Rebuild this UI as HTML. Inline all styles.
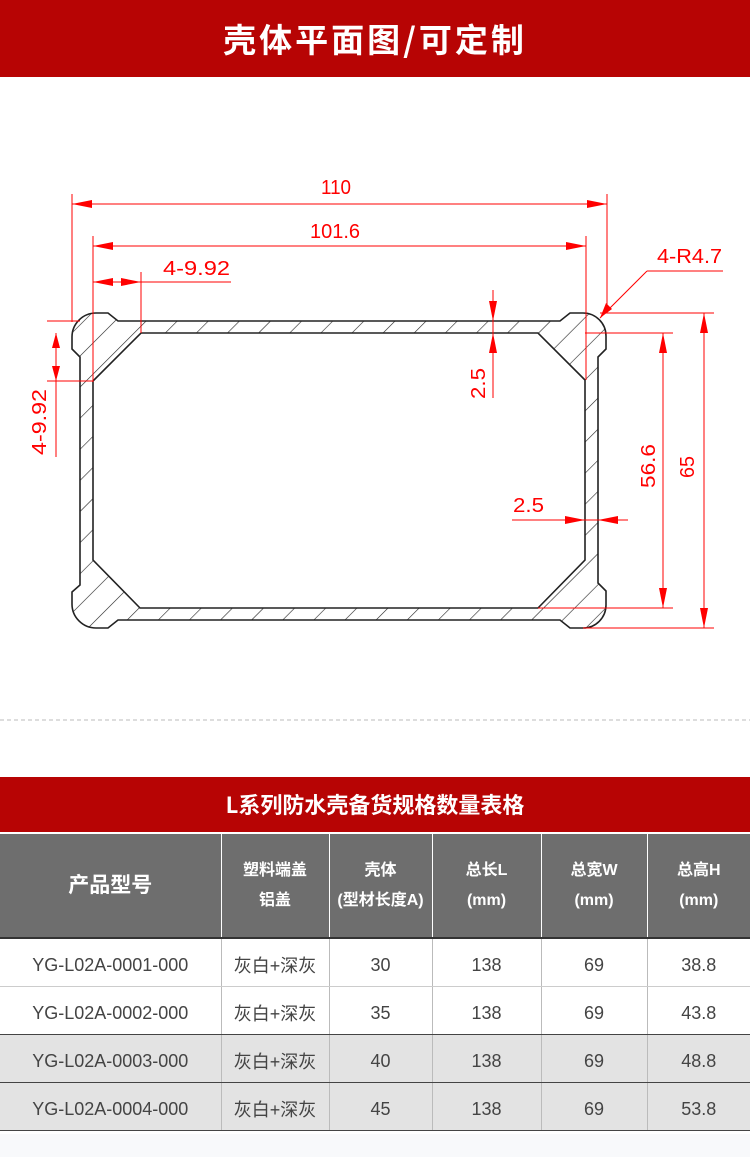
<!DOCTYPE html>
<html><head><meta charset="utf-8"><style>
*{margin:0;padding:0;box-sizing:border-box}
body{width:750px;height:1157px;background:#fff;position:relative;overflow:hidden;font-family:"Liberation Sans","Noto Sans CJK SC",sans-serif}
.top{position:absolute;left:0;top:0;width:750px;height:77px;background:#b70404;color:#fff;font-family:"Noto Sans CJK SC",sans-serif;font-weight:700;font-size:33px;letter-spacing:3px;text-align:center;line-height:77px}
.band{position:absolute;left:0;top:777px;width:750px;height:55px;background:#b70404;color:#fff;font-family:"Noto Sans CJK SC",sans-serif;font-weight:700;font-size:22px;text-align:center;line-height:55px}
table{position:absolute;left:0;top:834px;width:750px;border-collapse:collapse;font-family:"Liberation Sans","Noto Sans CJK SC",sans-serif}
td{text-align:center;color:#444;font-size:18px;border-left:1px solid #bbb;padding-top:6px}
td:first-child{border-left:none}
tr.h td{background:#6e6e6e;color:#fff;font-weight:700;font-size:16px;height:104px;line-height:30px;border-left:1px solid #fff;border-bottom:2px solid #333;padding-top:0}
tr.h td:first-child{border-left:none;font-size:21px}
tr.r td{height:48px;border-bottom:1px solid #ccc}
tr.g td{background:#e3e3e3;border-bottom:1px solid #444}
tr.g2 td{border-bottom:1px solid #444}
</style></head><body>
<div class="top">壳体平面图/可定制</div>
<svg width="750" height="760" style="position:absolute;left:0;top:0" xmlns="http://www.w3.org/2000/svg">
<defs>
<pattern id="h" patternUnits="userSpaceOnUse" width="22" height="22" patternTransform="rotate(45)">
<line x1="0" y1="0" x2="0" y2="22" stroke="#222" stroke-width="1.2"/>
</pattern>
</defs>
<path fill-rule="evenodd" fill="url(#h)" stroke="#222" stroke-width="1.6" d="M118,321 L560,321 L570,313 L583,313 A23,23 0 0 1 606,336 L606,349 L598,357 L598,583 L606,591 L606,605 A23,23 0 0 1 583,628 L570,628 L560,620 L118,620 L108,628 L96,628 A24,24 0 0 1 72,604 L72,592 L80,585 L80,357 L72,349 L72,337 A24,24 0 0 1 96,313 L108,313 Z M141,333 L538,333 L585,380 L585,560 L538,608 L140,608 L93,560 L93,381 Z"/>
<g stroke="#f00" stroke-width="1" fill="none">
<line x1="72" y1="194" x2="72" y2="322"/><line x1="607" y1="194" x2="607" y2="313"/>
<line x1="72" y1="204" x2="607" y2="204"/>
<line x1="93" y1="236" x2="93" y2="382"/><line x1="586" y1="236" x2="586" y2="380"/>
<line x1="93" y1="246" x2="586" y2="246"/>
<line x1="141" y1="272" x2="141" y2="333"/>
<line x1="93" y1="282" x2="231" y2="282"/>
<line x1="493" y1="290" x2="493" y2="398"/>
<line x1="47" y1="321" x2="80" y2="321"/><line x1="47" y1="381" x2="93" y2="381"/>
<line x1="56" y1="333" x2="56" y2="457"/>
<line x1="585" y1="333" x2="673" y2="333"/><line x1="600" y1="313" x2="714" y2="313"/>
<line x1="538" y1="608" x2="673" y2="608"/><line x1="583" y1="628" x2="714" y2="628"/>
<line x1="663" y1="333" x2="663" y2="608"/><line x1="704" y1="313" x2="704" y2="628"/>
<line x1="512" y1="520" x2="628" y2="520"/>
<line x1="647" y1="271" x2="723" y2="271"/><line x1="647" y1="271" x2="600" y2="318"/>
</g>
<g fill="#f00">
<path d="M72,204 l20,-4 v8z"/><path d="M607,204 l-20,-4 v8z"/>
<path d="M93,246 l20,-4 v8z"/><path d="M586,246 l-20,-4 v8z"/>
<path d="M93,282 l20,-4 v8z"/><path d="M141,282 l-20,-4 v8z"/>
<path d="M493,321 l-4,-20 h8z"/><path d="M493,333 l-4,20 h8z"/>
<path d="M56,333 l-4,15 h8z"/><path d="M56,381 l-4,-15 h8z"/>
<path d="M663,333 l-4,20 h8z"/><path d="M663,608 l-4,-20 h8z"/>
<path d="M704,313 l-4,20 h8z"/><path d="M704,628 l-4,-20 h8z"/>
<path d="M585,520 l-20,-4 v8z"/><path d="M598,520 l20,-4 v8z"/>
<path d="M600,318 l6,-15 l6,6z"/>
</g>
<g fill="#f00" font-family="Liberation Sans, sans-serif" font-size="20" lengthAdjust="spacingAndGlyphs">
<text x="321" y="194" textLength="30" lengthAdjust="spacingAndGlyphs">110</text>
<text x="310" y="238" textLength="50" lengthAdjust="spacingAndGlyphs">101.6</text>
<text x="163" y="275" textLength="67" lengthAdjust="spacingAndGlyphs">4-9.92</text>
<text x="657" y="263" textLength="65" lengthAdjust="spacingAndGlyphs">4-R4.7</text>
<text x="513" y="512" textLength="31" lengthAdjust="spacingAndGlyphs">2.5</text>
<text transform="translate(485,399) rotate(-90)" textLength="31" lengthAdjust="spacingAndGlyphs">2.5</text>
<text transform="translate(655,488) rotate(-90)" textLength="44" lengthAdjust="spacingAndGlyphs">56.6</text>
<text transform="translate(694,478) rotate(-90)" textLength="22" lengthAdjust="spacingAndGlyphs">65</text>
<text transform="translate(46,455) rotate(-90)" textLength="66" lengthAdjust="spacingAndGlyphs">4-9.92</text>
</g>
<line x1="0" y1="720" x2="750" y2="720" stroke="#bbb" stroke-dasharray="4,3"/>
</svg>
<div class="band">L系列防水壳备货规格数量表格</div>
<table>
<colgroup><col style="width:221px"><col style="width:108px"><col style="width:103px"><col style="width:109px"><col style="width:106px"><col style="width:103px"></colgroup>
<tr class="h"><td>产品型号</td><td>塑料端盖<br>铝盖</td><td>壳体<br>(型材长度A)</td><td>总长L<br>(mm)</td><td>总宽W<br>(mm)</td><td>总高H<br>(mm)</td></tr>
<tr class="r"><td>YG-L02A-0001-000</td><td>灰白+深灰</td><td>30</td><td>138</td><td>69</td><td>38.8</td></tr>
<tr class="r g2"><td>YG-L02A-0002-000</td><td>灰白+深灰</td><td>35</td><td>138</td><td>69</td><td>43.8</td></tr>
<tr class="r g"><td>YG-L02A-0003-000</td><td>灰白+深灰</td><td>40</td><td>138</td><td>69</td><td>48.8</td></tr>
<tr class="r g"><td>YG-L02A-0004-000</td><td>灰白+深灰</td><td>45</td><td>138</td><td>69</td><td>53.8</td></tr>
</table>
<div style="position:absolute;left:0;top:1134px;width:750px;height:23px;background:#f8f9fb"></div>
</body></html>
